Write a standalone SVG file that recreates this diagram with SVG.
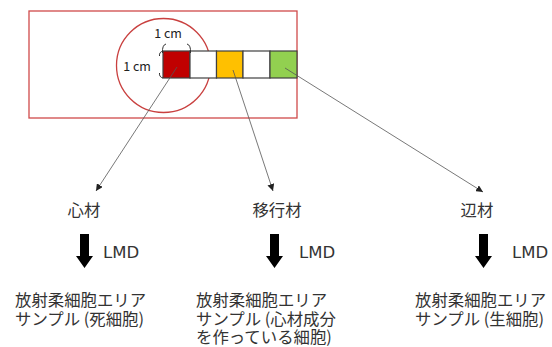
<svg xmlns="http://www.w3.org/2000/svg" width="552" height="347" viewBox="0 0 552 347">
<style>
text{font-family:"Noto Sans CJK JP","Noto Sans",sans-serif;fill:#333}
.jp{font-size:16.4px}
.lmd{font-family:"DejaVu Sans",sans-serif;font-size:16.5px}
.cm{font-size:12.5px;fill:#222}
.sq{stroke:#404040;stroke-width:1.2}
.conn{stroke:#555;stroke-width:0.8;fill:none}
.blk{fill:#000}
.br{stroke:#333;stroke-width:1;fill:none}
</style>
<defs>
<marker id="ah" viewBox="0 0 10 10" refX="10" refY="5" markerWidth="7" markerHeight="7" orient="auto" markerUnits="userSpaceOnUse">
<path d="M0,0 L10,5 L0,10 z" fill="#222"/>
</marker>
<path id="blkarrow" d="M-4.5,0 L4.5,0 L4.5,22 L8.5,22 L0,34 L-8.5,22 L-4.5,22 z"/>
</defs>

<g id="sample">
<rect x="29" y="11" width="268" height="107" fill="#fff" stroke="#d04a4a" stroke-width="1.3"/>
<circle cx="163.5" cy="65.5" r="47" fill="none" stroke="#c9403f" stroke-width="1.3"/>
<rect class="sq" x="163" y="51" width="27" height="27" fill="#C00000"/>
<rect class="sq" x="190" y="51" width="26.5" height="27" fill="#fff"/>
<rect class="sq" x="216.5" y="51" width="26.5" height="27" fill="#FFC000"/>
<rect class="sq" x="243" y="51" width="27" height="27" fill="#fff"/>
<rect class="sq" x="270" y="51" width="27" height="27" fill="#92D050"/>
<path class="br" d="M166,44 Q162,45 162.5,53 M187,44 Q191,45 190.5,53"/>
<path class="br" d="M163,51 Q159,52 159.5,56 M163,78 Q159,77 159.5,73"/>
<text class="cm" x="168" y="38" text-anchor="middle">1 cm</text>
<text class="cm" x="137" y="71" text-anchor="middle">1 cm</text>
</g>

<g id="connectors">
<line class="conn" x1="177" y1="67" x2="96" y2="191" marker-end="url(#ah)"/>
<line class="conn" x1="233" y1="70" x2="273" y2="191" marker-end="url(#ah)"/>
<line class="conn" x1="285" y1="68" x2="483" y2="192" marker-end="url(#ah)"/>
</g>

<g id="heartwood">
<text class="jp" x="84" y="216" text-anchor="middle">心材</text>
<use href="#blkarrow" x="84.5" y="234" class="blk"/>
<text class="lmd" x="103" y="258">LMD</text>
<text class="jp" x="15" y="306">放射柔細胞エリア</text>
<text class="jp" x="15" y="325">サンプル (死細胞)</text>
</g>

<g id="transition">
<text class="jp" x="277" y="216" text-anchor="middle">移行材</text>
<use href="#blkarrow" x="274.5" y="234" class="blk"/>
<text class="lmd" x="299" y="258">LMD</text>
<text class="jp" x="196" y="306">放射柔細胞エリア</text>
<text class="jp" x="196" y="325">サンプル (心材成分</text>
<text class="jp" x="196" y="343">を作っている細胞)</text>
</g>

<g id="sapwood">
<text class="jp" x="477" y="216" text-anchor="middle">辺材</text>
<use href="#blkarrow" x="483.5" y="234" class="blk"/>
<text class="lmd" x="512" y="258">LMD</text>
<text class="jp" x="415" y="306">放射柔細胞エリア</text>
<text class="jp" x="415" y="325">サンプル (生細胞)</text>
</g>
</svg>
